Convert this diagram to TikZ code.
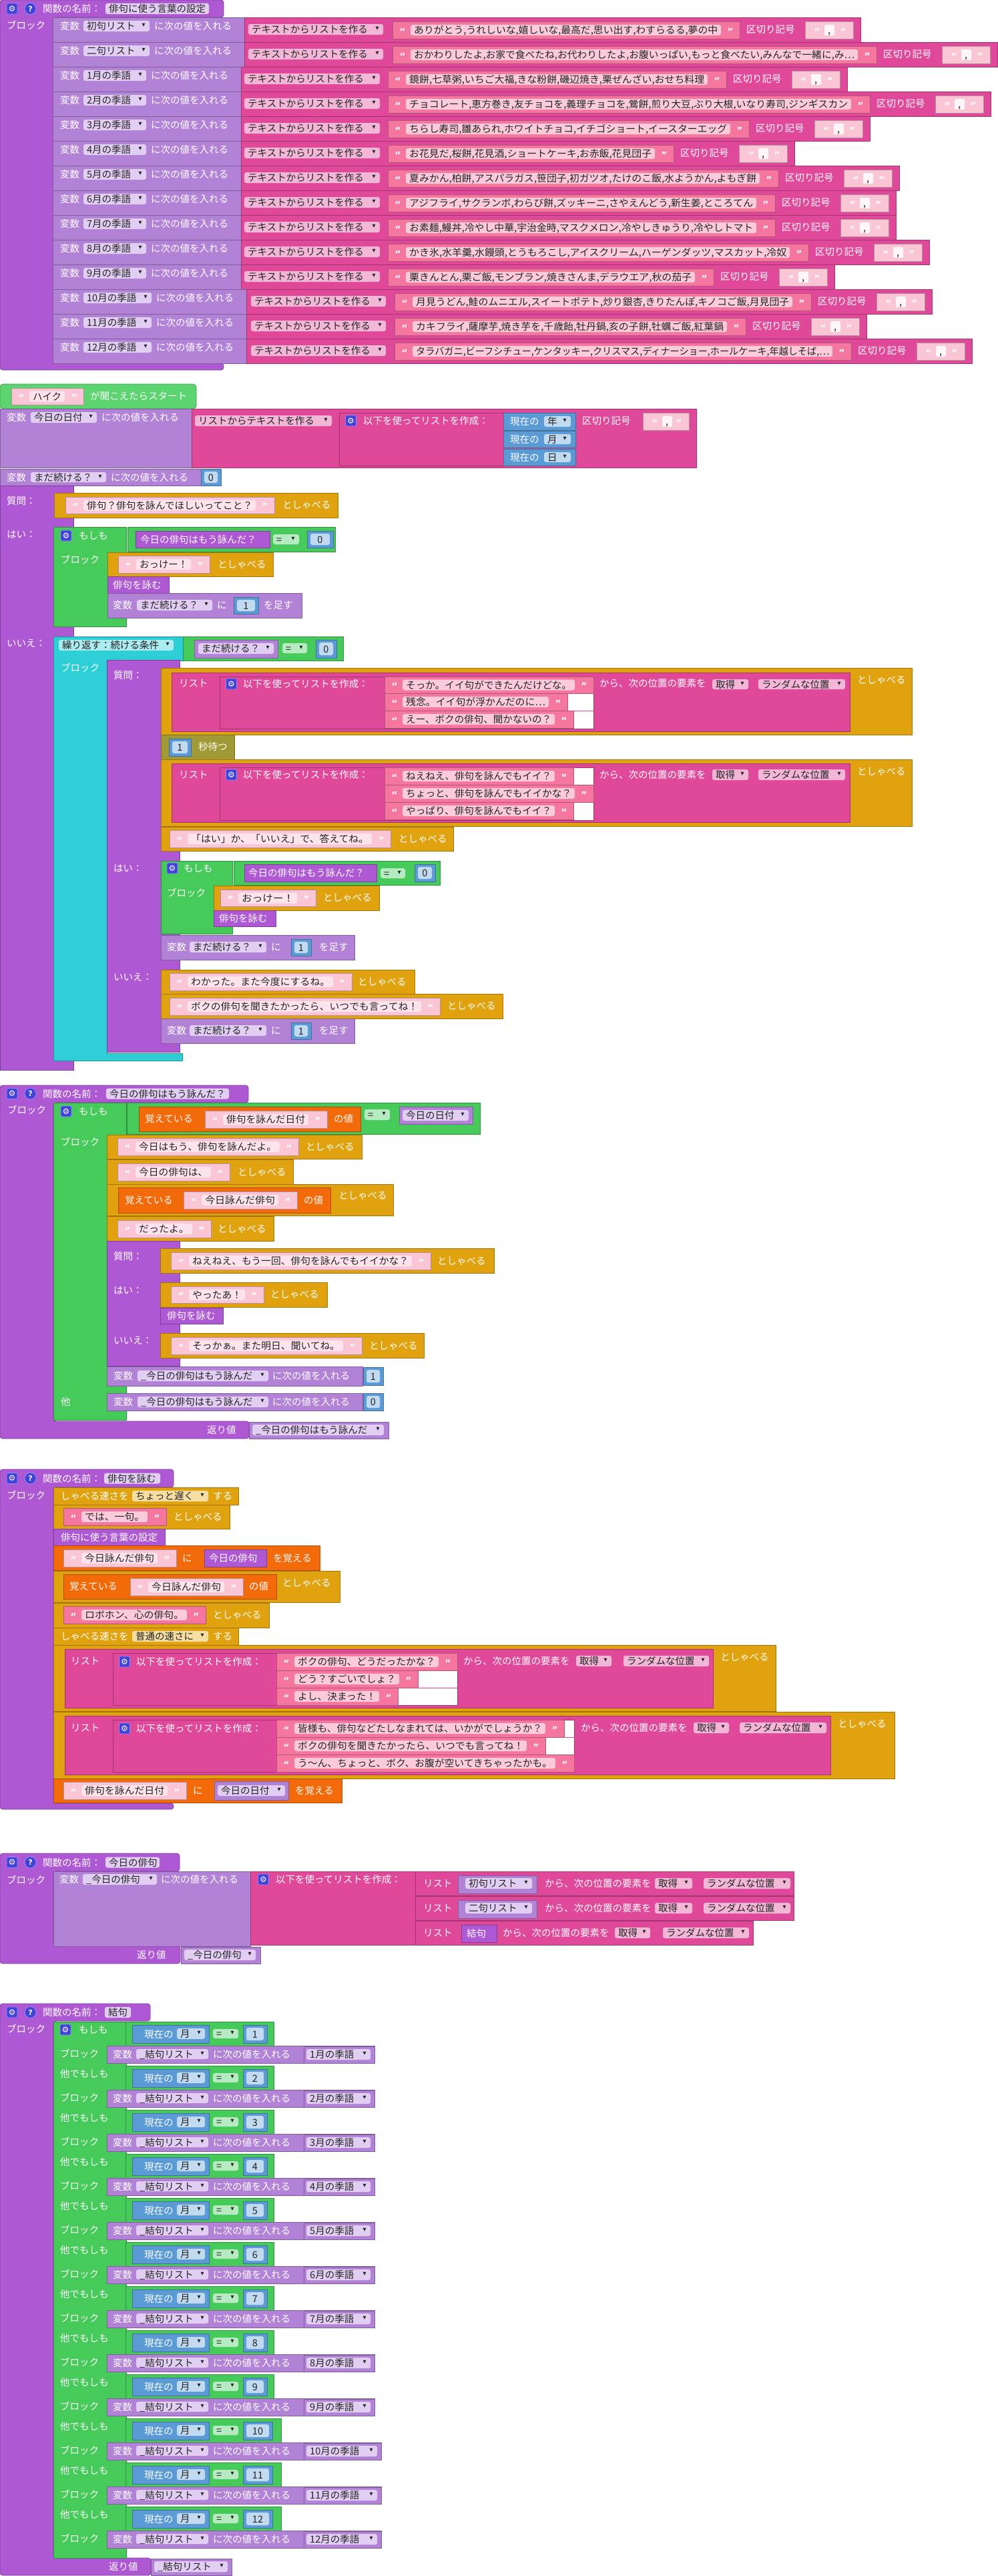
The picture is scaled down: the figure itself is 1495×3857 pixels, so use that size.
\documentclass[tikz,border=0pt]{standalone}
\usepackage{fontspec}
\usepackage{graphicx}
\newfontfamily\jpf{Noto Sans CJK JP}
\newfontfamily\djf{DejaVu Sans}
\definecolor{cProc}{RGB}{174,88,212}
\definecolor{cVar}{RGB}{177,130,214}
\definecolor{cVarF}{RGB}{226,206,242}
\definecolor{cLst}{RGB}{224,73,153}
\definecolor{cLstF}{RGB}{242,182,214}
\definecolor{cStrD}{RGB}{245,118,158}
\definecolor{cStrDF}{RGB}{251,203,219}
\definecolor{cStrL}{RGB}{250,197,213}
\definecolor{cStrLF}{RGB}{253,228,236}
\definecolor{cSay}{RGB}{224,162,15}
\definecolor{cRem}{RGB}{242,106,10}
\definecolor{cGrn}{RGB}{70,202,90}
\definecolor{cGrnF}{RGB}{182,234,193}
\definecolor{cEvt}{RGB}{92,212,112}
\definecolor{cCyn}{RGB}{46,206,214}
\definecolor{cCynF}{RGB}{170,236,240}
\definecolor{cBlu}{RGB}{91,155,213}
\definecolor{cBluF}{RGB}{193,218,240}
\definecolor{cOlv}{RGB}{161,152,54}
\definecolor{cSpdF}{RGB}{246,222,162}
\definecolor{cIco}{RGB}{66,66,215}
\definecolor{cIcoB}{RGB}{140,140,255}
\definecolor{cTxt}{RGB}{35,35,35}
\tikzset{
 lab/.style={anchor=west,inner sep=0pt,text=cTxt,font=\jpf\fontsize{14.5}{17}\selectfont,text height=12.5pt,text depth=1.5pt},
 qt/.style={inner sep=0pt,text=white,font=\djf\bfseries\fontsize{14}{14}\selectfont,text height=14.4pt,text depth=0pt},
 tri/.style={inner sep=0pt,text=cTxt,font=\djf\fontsize{6.5}{6.5}\selectfont},
}
\newcommand\zB[5]{\filldraw[fill=#5,draw=#5!72!black,line width=0.8pt] ({#1},{#2}) rectangle ({#3},{#4});}
\newcommand\zLw[3]{\node[lab,text=white] at ({#1},{#2}) {#3};}
\newcommand\zDd[6]{\fill[#5,rounded corners=3pt] ({#1},{#2}) rectangle ({#3},{#4});
 \node[lab] at ({#1+5},{(#2+#4)/2}) {#6};
 \node[tri] at ({#3-9},{(#2+#4)/2-1}) {▼};}
\newcommand\zStr[7]{\zB{#3}{#4}{#5}{#6}{#1}%
 \pgfmathsetmacro\sym{(#4+#6)/2}%
 \pgfmathsetmacro\sfa{#3+27}%
 \pgfmathsetmacro\sfb{#5-28}%
 \pgfmathsetmacro\sfw{max(#5-#3-65,5)}%
 \fill[#2,rounded corners=3pt] ({\sfa},{\sym-8}) rectangle ({\sfb},{\sym+8});%
 \node[qt] at ({#3+15},{\sym}) {“};%
 \node[qt] at ({#5-14},{\sym}) {”};%
 \node[lab] at ({\sfa+5},{\sym}) {\resizebox{\sfw pt}{\height}{#7}};}
\newcommand\zSep[4]{\zB{#1}{#2}{#3}{#4}{cStrL}%
 \pgfmathsetmacro\sym{(#2+#4)/2}%
 \fill[white!85!cStrL,rounded corners=2pt] ({#1+29},{\sym-8}) rectangle ({#1+44},{\sym+8});%
 \node[qt] at ({#1+18},{\sym}) {“};%
 \node[qt] at ({#3-15},{\sym}) {”};%
 \node[lab] at ({#1+34},{\sym}) {,};}
\newcommand\zNum[5]{\zB{#1}{#2}{#3}{#4}{cBlu}%
 \fill[cBluF,rounded corners=3pt] ({#1+5},{#2+4}) rectangle ({#3-5},{#4-4});%
 \node[lab,anchor=center] at ({(#1+#3)/2},{(#2+#4)/2}) {#5};}
\newcommand\zG[2]{\filldraw[fill=cIco,draw=cIcoB,line width=0.8pt,rounded corners=2pt] ({#1-8},{#2-8}) rectangle ({#1+8},{#2+8});%
 \node[inner sep=0pt,text=white,font=\djf\fontsize{12}{12}\selectfont] at ({#1},{#2}) {⚙};}
\newcommand\zQ[2]{\filldraw[fill=cIco,draw=cIcoB,line width=0.8pt] ({#1},{#2}) circle (8.5pt);%
 \node[inner sep=0pt,text=white,font=\djf\bfseries\fontsize{11}{11}\selectfont] at ({#1},{#2}) {?};}
\newcommand\zProc[6]{\filldraw[fill=cProc,draw=cProc!72!black,line width=0.8pt,rounded corners=4pt] (0,#2)--(#1,#2)--(#1,#3)--(80,#3)--(80,#4)--(#6,#4)--(#6,#5)--(0,#5)--cycle;}
\newcommand\zHdr[4]{\zG{18}{#1}\zQ{45.5}{#1}\zLw{64}{#1}{関数の名前：}%
 \fill[cVarF,rounded corners=3pt] ({#2},{#1-8}) rectangle ({#3},{#1+8});%
 \node[lab] at ({#2+5},{#1}) {#4};}
\newcommand\zRow[5]{%
 \ifx A#1\def\ve{366}\def\vf{224}\def\lx{231}\def\la{372}\def\lb{574}\def\sbb{588}\fi
 \ifx B#1\def\ve{361}\def\vf{219}\def\lx{226}\def\la{366}\def\lb{569}\def\sbb{581}\fi
 \ifx C#1\def\ve{369}\def\vf{227}\def\lx{234}\def\la{376}\def\lb{578}\def\sbb{591}\fi
 \zB{79}{#2}{\ve}{#2+37}{cVar}%
 \zB{\ve}{#2}{#4+181}{#2+37}{cLst}%
 \zLw{90}{#2+13}{変数}%
 \zDd{125}{#2+5}{\vf}{#2+21}{cVarF}{#3}%
 \zLw{\lx}{#2+13}{に次の値を入れる}%
 \zDd{\la}{#2+10}{\lb}{#2+26}{cLstF}{テキストからリストを作る}%
 \zStr{cStrD}{cStrDF}{\sbb}{#2+6}{#4}{#2+32}{#5}%
 \zLw{#4+10}{#2+18}{区切り記号}%
 \zSep{#4+98}{#2+6}{#4+170}{#2+32}}
\begin{document}
\begin{tikzpicture}[x=1pt,y=-1pt]
\useasboundingbox (0,0) rectangle (1495,3857);
\fill[white] (0,0) rectangle (1495,3857);
% ================= Section 1
\zProc{335}{0}{26}{544}{554}{335}
\zHdr{13}{158}{313}{俳句に使う言葉の設定}
\zLw{10}{38}{ブロック}
\zRow{A}{26}{初句リスト}{1108}{ありがとう,うれしいな,嬉しいな,最高だ,思い出す,わすらるる,夢の中}
\zRow{A}{63}{二句リスト}{1313}{おかわりしたよ,お家で食べたね,お代わりしたよ,お腹いっぱい,もっと食べたい,みんなで一緒に,み…}
\zRow{B}{100}{1月の季語}{1088}{鏡餅,七草粥,いちご大福,きな粉餅,磯辺焼き,栗ぜんざい,おせち料理}
\zRow{B}{137}{2月の季語}{1303}{チョコレート,恵方巻き,友チョコを,義理チョコを,鶯餅,煎り大豆,ぶり大根,いなり寿司,ジンギスカン}
\zRow{B}{174}{3月の季語}{1122}{ちらし寿司,雛あられ,ホワイトチョコ,イチゴショート,イースターエッグ}
\zRow{B}{211}{4月の季語}{1009}{お花見だ,桜餅,花見酒,ショートケーキ,お赤飯,花見団子}
\zRow{B}{248}{5月の季語}{1166}{夏みかん,柏餅,アスパラガス,笹団子,初ガツオ,たけのこ飯,水ようかん,よもぎ餅}
\zRow{B}{285}{6月の季語}{1161}{アジフライ,サクランボ,わらび餅,ズッキーニ,さやえんどう,新生姜,ところてん}
\zRow{B}{322}{7月の季語}{1161}{お素麺,鰻丼,冷やし中華,宇治金時,マスクメロン,冷やしきゅうり,冷やしトマト}
\zRow{B}{359}{8月の季語}{1211}{かき氷,水羊羹,水饅頭,とうもろこし,アイスクリーム,ハーゲンダッツ,マスカット,冷奴}
\zRow{B}{396}{9月の季語}{1069}{栗きんとん,栗ご飯,モンブラン,焼きさんま,デラウエア,秋の茄子}
\zRow{C}{433}{10月の季語}{1215}{月見うどん,鮭のムニエル,スイートポテト,炒り銀杏,きりたんぽ,キノコご飯,月見団子}
\zRow{C}{470}{11月の季語}{1117}{カキフライ,薩摩芋,焼き芋を,千歳飴,牡丹鍋,亥の子餅,牡蠣ご飯,紅葉鍋}
\zRow{C}{507}{12月の季語}{1275}{タラバガニ,ビーフシチュー,ケンタッキー,クリスマス,ディナーショー,ホールケーキ,年越しそば,…}
% ================= Section 2
\filldraw[fill=cEvt,draw=cEvt!72!black,line width=0.8pt,rounded corners=5pt] (0,575) rectangle (294,612);
\zStr{cStrL}{cStrLF}{17}{581}{125}{606}{ハイク}
\zLw{135}{593}{が聞こえたらスタート}
\zB{0}{612}{287}{700}{cVar}
\zLw{10}{625}{変数}
\zDd{46}{617}{145}{633}{cVarF}{今日の日付}
\zLw{152}{625}{に次の値を入れる}
\zB{287}{612}{1043}{700}{cLst}
\zDd{292}{622}{497}{638}{cLstF}{リストからテキストを作る}
\zB{508}{618}{756}{697}{cLst}
\zG{525.5}{630}
\zLw{544}{630}{以下を使ってリストを作成：}
\zB{754}{618}{862}{644}{cBlu}\zLw{764}{631}{現在の}\zDd{815}{623}{855}{639}{cBluF}{年}
\zB{754}{645}{862}{670}{cBlu}\zLw{764}{657.5}{現在の}\zDd{815}{650}{855}{665}{cBluF}{月}
\zB{754}{672}{862}{697}{cBlu}\zLw{764}{684.5}{現在の}\zDd{815}{677}{855}{692}{cBluF}{日}
\zLw{872}{630}{区切り記号}
\zSep{963}{618}{1032}{644}
\zB{0}{702}{301}{727}{cVar}
\zLw{10}{714.5}{変数}
\zDd{46}{707}{159}{722}{cVarF}{まだ続ける？}
\zLw{166}{714.5}{に次の値を入れる}
\zNum{301}{702}{331}{727}{0}
% outer ask
\zB{0}{727}{110}{1602}{cProc}
\zLw{10}{750}{質問：}
\zLw{10}{800}{はい：}
\zLw{10}{963}{いいえ：}
\zB{81}{738}{506}{775}{cSay}
\zStr{cStrL}{cStrLF}{98}{744}{411}{769}{俳句？俳句を詠んでほしいってこと？}
\zLw{423}{756}{としゃべる}
% if 1
\zB{80}{789}{189}{938}{cGrn}
\zB{191}{789}{502}{826}{cGrn}
\zG{99}{802}\zLw{118}{802}{もしも}
\zB{203}{795}{404}{820}{cProc}\zLw{210}{807.5}{今日の俳句はもう詠んだ？}
\zDd{409}{800}{448}{815}{cGrnF}{=}
\zNum{460}{795}{499}{820}{0}
\zLw{91}{838}{ブロック}
\zB{161}{827}{409}{863}{cSay}
\zStr{cStrL}{cStrLF}{177}{832}{314}{858}{おっけー！}
\zLw{326}{845}{としゃべる}
\zB{161}{863}{253}{888}{cProc}\zLw{169}{875.5}{俳句を詠む}
\zB{161}{888}{452}{925}{cVar}\zLw{169}{906}{変数}
\zDd{205}{898}{318}{914}{cVarF}{まだ続ける？}
\zLw{325}{906}{に}\zNum{350}{894}{387}{919}{1}\zLw{395}{906}{を足す}
% repeat
\filldraw[fill=cCyn,draw=cCyn!72!black,line width=0.8pt] (80,953)--(274,953)--(274,989)--(160,989)--(160,1577)--(273,1577)--(273,1588)--(80,1588)--cycle;
\zDd{88}{958}{260}{974}{cCynF}{繰り返す：続ける条件}
\zB{274}{953}{514}{989}{cGrn}
\zB{291}{958}{416}{985}{cVar}\zDd{297}{963}{410}{979}{cVarF}{まだ続ける？}
\zDd{423}{963}{460}{978}{cGrnF}{=}
\zNum{473}{958}{504}{985}{0}
\zLw{91}{1000}{ブロック}
% inner ask
\zB{160}{988}{269}{1575}{cProc}
\zLw{170}{1011}{質問：}
\zLw{170}{1300}{はい：}
\zLw{170}{1463}{いいえ：}
% say list 1
\zB{241}{1000}{1366}{1100}{cSay}
\zB{257}{1007}{1273}{1095}{cLst}
\zLw{268}{1023}{リスト}
\zB{329}{1013}{889}{1091}{cLst}
\zG{346.5}{1024}\zLw{364}{1024}{以下を使ってリストを作成：}
\zStr{cStrD}{cStrDF}{576}{1013}{889}{1038}{そっか。イイ句ができたんだけどな。}
\zStr{cStrD}{cStrDF}{576}{1038}{850}{1064}{残念。イイ句が浮かんだのに…}
\zStr{cStrD}{cStrDF}{576}{1064}{859}{1090}{えー、ボクの俳句、聞かないの？}
\fill[white] (851,1038.5) rectangle (889,1063.6);
\fill[white] (860,1064.5) rectangle (889,1090.5);
\zLw{898}{1023}{から、次の位置の要素を}
\zDd{1067}{1017}{1121}{1032}{cLstF}{取得}
\zDd{1136}{1017}{1266}{1032}{cLstF}{ランダムな位置}
\zLw{1284}{1018}{としゃべる}
% wait
\zB{241}{1100}{351}{1137}{cOlv}
\zNum{253}{1106}{286}{1132}{1}
\zLw{297}{1118}{秒待つ}
% say list 2
\zB{241}{1137}{1366}{1237}{cSay}
\zB{257}{1143}{1273}{1231}{cLst}
\zLw{268}{1160}{リスト}
\zB{329}{1149}{889}{1228}{cLst}
\zG{346.5}{1160}\zLw{364}{1160}{以下を使ってリストを作成：}
\zStr{cStrD}{cStrDF}{576}{1149}{859}{1175}{ねえねえ、俳句を詠んでもイイ？}
\zStr{cStrD}{cStrDF}{576}{1175}{889}{1201}{ちょっと、俳句を詠んでもイイかな？}
\zStr{cStrD}{cStrDF}{576}{1201}{859}{1227}{やっぱり、俳句を詠んでもイイ？}
\fill[white] (860,1149.5) rectangle (889,1174.6);
\fill[white] (860,1201.5) rectangle (889,1227.5);
\zLw{898}{1160}{から、次の位置の要素を}
\zDd{1067}{1152}{1121}{1168}{cLstF}{取得}
\zDd{1136}{1152}{1266}{1168}{cLstF}{ランダムな位置}
\zLw{1284}{1155}{としゃべる}
% say 3
\zB{241}{1238}{679}{1274}{cSay}
\zStr{cStrL}{cStrLF}{254}{1243}{585}{1269}{「はい」か、「いいえ」で、答えてね。}
\zLw{597}{1256}{としゃべる}
% if 2
\zB{241}{1289}{348}{1398}{cGrn}
\zB{350}{1289}{659}{1325}{cGrn}
\zG{258}{1300}\zLw{275}{1300}{もしも}
\zB{366}{1294}{564}{1320}{cProc}\zLw{372}{1307}{今日の俳句はもう詠んだ？}
\zDd{570}{1300}{607}{1315}{cGrnF}{=}
\zNum{621}{1294}{652}{1320}{0}
\zLw{250}{1337}{ブロック}
\zB{320}{1326}{568}{1363}{cSay}
\zStr{cStrL}{cStrLF}{330}{1332}{473}{1357}{おっけー！}
\zLw{484}{1344}{としゃべる}
\zB{320}{1363}{413}{1387}{cProc}\zLw{328}{1375}{俳句を詠む}
\zB{241}{1400}{531}{1437}{cVar}\zLw{250}{1418}{変数}
\zDd{284}{1410}{399}{1426}{cVarF}{まだ続ける？}
\zLw{406}{1418}{に}\zNum{436}{1406}{466}{1431}{1}\zLw{478}{1418}{を足す}
\zB{241}{1452}{621}{1488}{cSay}
\zStr{cStrL}{cStrLF}{254}{1457}{527}{1483}{わかった。また今度にするね。}
\zLw{536}{1470}{としゃべる}
\zB{241}{1488}{753}{1525}{cSay}
\zStr{cStrL}{cStrLF}{254}{1494}{659}{1520}{ボクの俳句を聞きたかったら、いつでも言ってね！}
\zLw{670}{1506}{としゃべる}
\zB{241}{1525}{531}{1562}{cVar}\zLw{250}{1543}{変数}
\zDd{284}{1535}{399}{1551}{cVarF}{まだ続ける？}
\zLw{406}{1543}{に}\zNum{436}{1531}{466}{1556}{1}\zLw{478}{1543}{を足す}
% ================= Section 3
\zProc{372}{1625}{1651}{2128}{2154}{373}
\zHdr{1637.5}{159}{343}{今日の俳句はもう詠んだ？}
\zLw{11}{1662}{ブロック}
\zB{80}{1651}{189}{2126}{cGrn}
\zB{190}{1651}{719}{1698}{cGrn}
\zG{99}{1664}\zLw{118}{1664}{もしも}
\zB{208}{1657}{540}{1694}{cRem}\zLw{217}{1675}{覚えている}
\zStr{cStrL}{cStrLF}{307}{1663}{490}{1689}{俳句を詠んだ日付}
\zLw{500}{1675}{の値}
\zDd{546}{1661}{584}{1677}{cGrnF}{=}
\zB{598}{1657}{708}{1683}{cVar}\zDd{603}{1662}{702}{1678}{cVarF}{今日の日付}
\zLw{91}{1710}{ブロック}
\zB{160}{1699}{542}{1735}{cSay}
\zStr{cStrL}{cStrLF}{176}{1704}{447}{1730}{今日はもう、俳句を詠んだよ。}
\zLw{458}{1717}{としゃべる}
\zB{160}{1736}{439}{1773}{cSay}
\zStr{cStrL}{cStrLF}{176}{1742}{344}{1768}{今日の俳句は、}
\zLw{356}{1755}{としゃべる}
\zB{160}{1773}{589}{1820}{cSay}
\zB{177}{1778}{495}{1816}{cRem}\zLw{187}{1797}{覚えている}
\zStr{cStrL}{cStrLF}{275}{1784}{445}{1810}{今日詠んだ俳句}
\zLw{455}{1797}{の値}
\zLw{507}{1790}{としゃべる}
\zB{160}{1821}{410}{1858}{cSay}
\zStr{cStrL}{cStrLF}{176}{1827}{316}{1853}{だったよ。}
\zLw{326}{1840}{としゃべる}
\zB{160}{1858}{269}{2045}{cProc}
\zLw{170}{1881}{質問：}
\zLw{170}{1932}{はい：}
\zLw{170}{2007}{いいえ：}
\zB{240}{1869}{740}{1906}{cSay}
\zStr{cStrL}{cStrLF}{256}{1875}{645}{1901}{ねえねえ、もう一回、俳句を詠んでもイイかな？}
\zLw{655}{1888}{としゃべる}
\zB{240}{1920}{490}{1957}{cSay}
\zStr{cStrL}{cStrLF}{256}{1926}{395}{1951}{やったあ！}
\zLw{405}{1938}{としゃべる}
\zB{240}{1958}{334}{1982}{cProc}\zLw{250}{1970}{俳句を詠む}
\zB{240}{1996}{635}{2033}{cSay}
\zStr{cStrL}{cStrLF}{256}{2002}{542}{2028}{そっかぁ。また明日、聞いてね。}
\zLw{553}{2015}{としゃべる}
\zB{160}{2046}{543}{2075}{cVar}\zLw{170}{2060}{変数}
\zDd{206}{2052}{402}{2068}{cVarF}{\_今日の俳句はもう詠んだ}
\zLw{408}{2060}{に次の値を入れる}
\zNum{544}{2047}{574}{2074}{1}
\zLw{91}{2099}{他}
\zB{160}{2086}{543}{2112}{cVar}\zLw{170}{2099}{変数}
\zDd{206}{2091}{402}{2107}{cVarF}{\_今日の俳句はもう詠んだ}
\zLw{408}{2099}{に次の値を入れる}
\zNum{544}{2086}{574}{2112}{0}
\zLw{310}{2141}{返り値}
\zB{373}{2129}{582}{2154}{cVar}\zDd{378}{2133}{575}{2149}{cVarF}{\_今日の俳句はもう詠んだ}
% ================= Section 4
\zProc{260}{2200}{2227}{2700}{2709}{260}
\zHdr{2213.5}{156}{240}{俳句を詠む}
\zLw{10}{2239}{ブロック}
\zB{80}{2227}{357}{2253}{cSay}\zLw{91}{2240}{しゃべる速さを}
\zDd{198}{2232}{312}{2248}{cSpdF}{ちょっと遅く}\zLw{319}{2240}{する}
\zB{80}{2253}{344}{2289}{cSay}
\zStr{cStrD}{cStrDF}{95}{2258}{249}{2284}{では、一句。}
\zLw{260}{2271}{としゃべる}
\zB{80}{2289}{247}{2314}{cProc}\zLw{91}{2302}{俳句に使う言葉の設定}
\zB{80}{2314}{479}{2351}{cRem}
\zStr{cStrL}{cStrLF}{95}{2320}{264}{2346}{今日詠んだ俳句}
\zLw{273}{2333}{に}
\zB{306}{2320}{399}{2346}{cProc}\zLw{313}{2333}{今日の俳句}
\zLw{409}{2333}{を覚える}
\zB{80}{2352}{509}{2399}{cSay}
\zB{95}{2357}{414}{2394}{cRem}\zLw{104}{2375}{覚えている}
\zStr{cStrL}{cStrLF}{195}{2363}{364}{2389}{今日詠んだ俳句}
\zLw{373}{2375}{の値}
\zLw{423}{2370}{としゃべる}
\zB{80}{2400}{403}{2437}{cSay}
\zStr{cStrD}{cStrDF}{95}{2405}{308}{2431}{ロボホン、心の俳句。}
\zLw{319}{2418}{としゃべる}
\zB{80}{2437}{357}{2463}{cSay}\zLw{91}{2450}{しゃべる速さを}
\zDd{198}{2442}{312}{2458}{cSpdF}{普通の速さに}\zLw{319}{2450}{する}
% say list A
\zB{80}{2463}{1162}{2562}{cSay}
\zB{97}{2469}{1068}{2557}{cLst}
\zLw{106}{2487}{リスト}
\zB{169}{2475}{685}{2553}{cLst}
\zG{186.5}{2488}\zLw{204}{2488}{以下を使ってリストを作成：}
\zStr{cStrD}{cStrDF}{414}{2475}{685}{2501}{ボクの俳句、どうだったかな？}
\zStr{cStrD}{cStrDF}{414}{2501}{626}{2527}{どう？すごいでしょ？}
\zStr{cStrD}{cStrDF}{414}{2527}{596}{2553}{よし、決まった！}
\fill[white] (627,2501.5) rectangle (685,2526.6);
\fill[white] (597,2527.5) rectangle (685,2553);
\zLw{694}{2487}{から、次の位置の要素を}
\zDd{863}{2479}{916}{2495}{cLstF}{取得}
\zDd{934}{2479}{1062}{2495}{cLstF}{ランダムな位置}
\zLw{1079}{2481}{としゃべる}
% say list B
\zB{80}{2563}{1340}{2663}{cSay}
\zB{97}{2569}{1244}{2657}{cLst}
\zLw{106}{2587}{リスト}
\zB{169}{2575}{860}{2653}{cLst}
\zG{186.5}{2588}\zLw{204}{2588}{以下を使ってリストを作成：}
\zStr{cStrD}{cStrDF}{414}{2575}{845}{2601}{皆様も、俳句などたしなまれては、いかがでしょうか？}
\zStr{cStrD}{cStrDF}{414}{2601}{817}{2627}{ボクの俳句を聞きたかったら、いつでも言ってね！}
\zStr{cStrD}{cStrDF}{414}{2627}{860}{2653}{う〜ん、ちょっと、ボク、お腹が空いてきちゃったかも。}
\fill[white] (846,2575.5) rectangle (860,2600.6);
\fill[white] (818,2601.5) rectangle (860,2626.6);
\zLw{870}{2587}{から、次の位置の要素を}
\zDd{1039}{2579}{1092}{2595}{cLstF}{取得}
\zDd{1108}{2579}{1238}{2595}{cLstF}{ランダムな位置}
\zLw{1255}{2581}{としゃべる}
\zB{80}{2663}{512}{2699}{cRem}
\zStr{cStrL}{cStrLF}{95}{2668}{279}{2694}{俳句を詠んだ日付}
\zLw{289}{2681}{に}
\zB{321}{2667}{432}{2695}{cVar}\zDd{326}{2673}{427}{2689}{cVarF}{今日の日付}
\zLw{442}{2681}{を覚える}
% ================= Section 5
\zProc{269}{2775}{2802}{2914}{2940}{270}
\zHdr{2788.5}{158}{239}{今日の俳句}
\zLw{10}{2815}{ブロック}
\zB{80}{2802}{375}{2914}{cVar}\zLw{89}{2814}{変数}
\zDd{124}{2806}{235}{2822}{cVarF}{\_今日の俳句}
\zLw{241}{2814}{に次の値を入れる}
\zB{375}{2802}{622}{2912}{cLst}
\zG{394.5}{2814}\zLw{413}{2814}{以下を使ってリストを作成：}
\zB{622}{2802}{1189}{2838}{cLst}\zLw{634}{2820}{リスト}
\zB{686}{2808}{804}{2835}{cVar}\zDd{697}{2812}{797}{2828}{cVarF}{初句リスト}
\zLw{816}{2820}{から、次の位置の要素を}
\zDd{981}{2812}{1037}{2828}{cLstF}{取得}
\zDd{1054}{2812}{1184}{2828}{cLstF}{ランダムな位置}
\zB{622}{2839}{1189}{2875}{cLst}\zLw{634}{2857}{リスト}
\zB{686}{2845}{804}{2872}{cVar}\zDd{697}{2849}{797}{2865}{cVarF}{二句リスト}
\zLw{816}{2857}{から、次の位置の要素を}
\zDd{981}{2849}{1037}{2865}{cLstF}{取得}
\zDd{1054}{2849}{1184}{2865}{cLstF}{ランダムな位置}
\zB{622}{2876}{1128}{2912}{cLst}\zLw{634}{2894}{リスト}
\zB{691}{2882}{744}{2908}{cProc}\zLw{699}{2895}{結句}
\zLw{753}{2894}{から、次の位置の要素を}
\zDd{921}{2886}{974}{2902}{cLstF}{取得}
\zDd{993}{2886}{1122}{2902}{cLstF}{ランダムな位置}
\zLw{205}{2927}{返り値}
\zB{271}{2915}{390}{2940}{cVar}\zDd{276}{2919}{383}{2935}{cVarF}{\_今日の俳句}
% ================= Section 6
\zProc{225}{3000}{3026}{3830}{3856}{226}
\zHdr{3013}{157}{196}{結句}
\zLw{10}{3038}{ブロック}
\zB{80}{3027}{189}{3830}{cGrn}
\foreach \k in {1,...,12}{
 \pgfmathsetmacro\ct{3027+66*(\k-1)}
 \pgfmathsetmacro\st{\ct+36}
 \ifnum\k>9 \def\ce{421}\def\ne{408}\def\ve{571}\else \def\ce{410}\def\ne{400}\def\ve{561}\fi
 \zB{188}{\ct}{\ce}{\ct+36}{cGrn}
 \zB{198}{\ct+5}{313}{\ct+32}{cBlu}
 \zLw{216}{\ct+18.5}{現在の}
 \zDd{265}{\ct+10}{307}{\ct+26}{cBluF}{月}
 \zDd{319}{\ct+11}{357}{\ct+25}{cGrnF}{=}
 \zNum{364}{\ct+5}{\ne}{\ct+32}{\k}
 \ifnum\k=1 \zG{98}{\ct+12}\zLw{118}{\ct+12}{もしも}\else \zLw{90}{\ct+12}{他でもしも}\fi
 \zB{160}{\st}{\ve}{\st+26}{cVar}
 \zLw{90}{\st+12}{ブロック}
 \zLw{169}{\st+12.5}{変数}
 \zDd{204}{\st+5}{312}{\st+20}{cVarF}{\_結句リスト}
 \zLw{319}{\st+12.5}{に次の値を入れる}
 \zB{455}{\st+1}{\ve}{\st+26}{cVar}
 \zDd{459}{\st+5}{\ve-6}{\st+21}{cVarF}{{\k}月の季語}
}
\zLw{163}{3843}{返り値}
\zB{226}{3831}{347}{3856}{cVar}\zDd{231}{3835}{341}{3851}{cVarF}{\_結句リスト}
\end{tikzpicture}
\end{document}
